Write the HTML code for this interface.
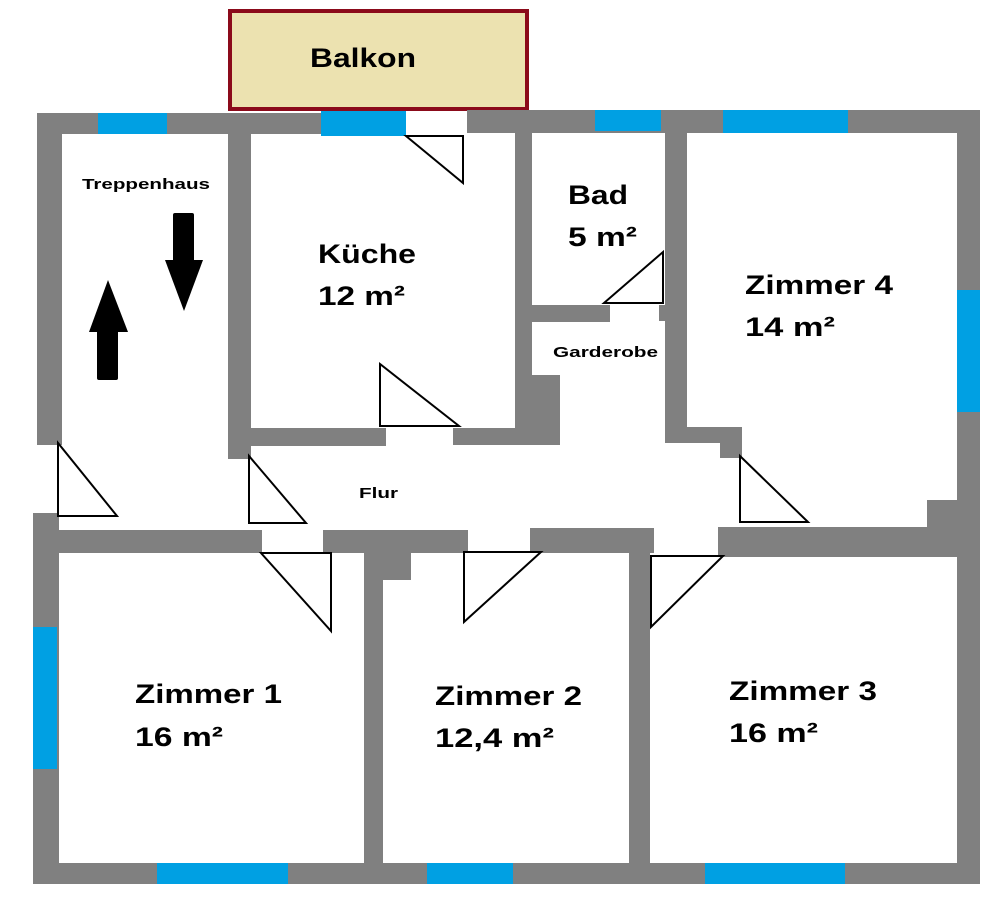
<!DOCTYPE html>
<html><head><meta charset="utf-8"><style>
html,body{margin:0;padding:0;background:#fff;width:1000px;height:898px;overflow:hidden}
svg{display:block}
text{font-family:"Liberation Sans",Arial,sans-serif;font-weight:bold;fill:#000}
</style></head><body>
<svg width="1000" height="898" viewBox="0 0 1000 898">
<rect x="0" y="0" width="1000" height="898" fill="#fff"/>
<rect x="230" y="11" width="297" height="98" fill="#ece2b0" stroke="#8b0a1a" stroke-width="4"/>
<text x="310" y="67" font-size="27" textLength="106" lengthAdjust="spacingAndGlyphs">Balkon</text>
<g fill="#808080">
<rect x="37" y="113" width="369" height="21"/>
<rect x="467" y="110" width="513" height="23"/>
<rect x="37" y="113" width="25" height="332"/>
<rect x="33" y="513" width="26" height="371"/>
<rect x="957" y="110" width="23" height="774"/>
<rect x="33" y="863" width="947" height="21"/>
<rect x="228" y="113" width="23" height="346"/>
<rect x="251" y="428" width="135" height="18"/>
<rect x="453" y="428" width="107" height="17"/>
<rect x="527" y="375" width="33" height="70"/>
<rect x="515" y="130" width="17" height="300"/>
<rect x="532" y="305" width="78" height="17"/>
<rect x="659" y="305" width="9" height="16"/>
<rect x="665" y="110" width="22" height="333"/>
<rect x="665" y="427" width="77" height="16"/>
<rect x="720" y="427" width="22" height="31"/>
<rect x="718" y="527" width="262" height="30"/>
<rect x="927" y="500" width="53" height="30"/>
<rect x="37" y="530" width="225" height="23"/>
<rect x="323" y="530" width="145" height="23"/>
<rect x="364" y="550" width="47" height="30"/>
<rect x="530" y="528" width="124" height="25"/>
<rect x="364" y="550" width="19" height="315"/>
<rect x="629" y="528" width="21" height="337"/>
</g>
<g fill="#00a0e3">
<rect x="98" y="113" width="69" height="21"/>
<rect x="321" y="111" width="85" height="25"/>
<rect x="595" y="110" width="66" height="21"/>
<rect x="723" y="110" width="125" height="23"/>
<rect x="957" y="290" width="23" height="122"/>
<rect x="33" y="627" width="24" height="142"/>
<rect x="157" y="863" width="131" height="21"/>
<rect x="427" y="863" width="86" height="21"/>
<rect x="705" y="863" width="140" height="21"/>
</g>
<g fill="none" stroke="#000" stroke-width="2">
<polygon points="58,443 58,516 117,516"/>
<polygon points="249,456 249,523 306,523"/>
<polygon points="380,364 380,426 459,426"/>
<polygon points="406,136 463,136 463,183"/>
<polygon points="663,252 663,303 604,303"/>
<polygon points="740,456 740,522 808,522"/>
<polygon points="261,553 331,553 331,631"/>
<polygon points="464,552 541,552 464,622"/>
<polygon points="651,556 723,556 651,627"/>
</g>
<g fill="#000">
<rect x="173" y="213" width="21" height="50" rx="2"/>
<polygon points="165,260 203,260 184,311"/>
<polygon points="108,280 128,332 89,332"/>
<rect x="97" y="330" width="21" height="50" rx="2"/>
</g>
<text x="82" y="189" font-size="15" textLength="128" lengthAdjust="spacingAndGlyphs">Treppenhaus</text>
<text x="318" y="263" font-size="27" textLength="98" lengthAdjust="spacingAndGlyphs">Küche</text>
<text x="318" y="305" font-size="27" textLength="87" lengthAdjust="spacingAndGlyphs">12 m²</text>
<text x="568" y="204" font-size="27" textLength="60" lengthAdjust="spacingAndGlyphs">Bad</text>
<text x="568" y="246" font-size="27" textLength="69" lengthAdjust="spacingAndGlyphs">5 m²</text>
<text x="553" y="357" font-size="15" textLength="105" lengthAdjust="spacingAndGlyphs">Garderobe</text>
<text x="745" y="294" font-size="27" textLength="148" lengthAdjust="spacingAndGlyphs">Zimmer 4</text>
<text x="745" y="336" font-size="27" textLength="90" lengthAdjust="spacingAndGlyphs">14 m²</text>
<text x="359" y="498" font-size="15" textLength="39" lengthAdjust="spacingAndGlyphs">Flur</text>
<text x="135" y="703" font-size="27" textLength="147" lengthAdjust="spacingAndGlyphs">Zimmer 1</text>
<text x="135" y="746" font-size="27" textLength="88" lengthAdjust="spacingAndGlyphs">16 m²</text>
<text x="435" y="705" font-size="27" textLength="147" lengthAdjust="spacingAndGlyphs">Zimmer 2</text>
<text x="435" y="747" font-size="27" textLength="119" lengthAdjust="spacingAndGlyphs">12,4 m²</text>
<text x="729" y="700" font-size="27" textLength="148" lengthAdjust="spacingAndGlyphs">Zimmer 3</text>
<text x="729" y="742" font-size="27" textLength="89" lengthAdjust="spacingAndGlyphs">16 m²</text>
</svg>
</body></html>
